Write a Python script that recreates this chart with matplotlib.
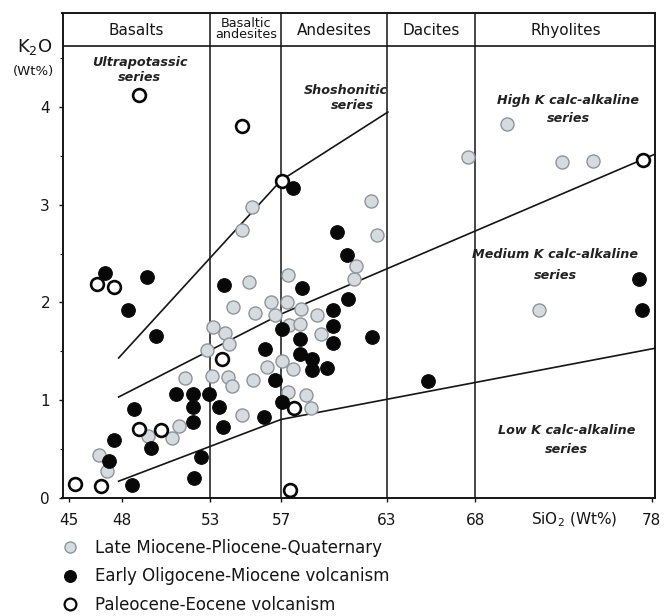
import matplotlib
matplotlib.use("Agg")
import matplotlib.pyplot as plt
from matplotlib.lines import Line2D
from matplotlib.ticker import MultipleLocator
import matplotlib.transforms as mtransforms

plt.rcParams['font.family'] = ['DejaVu Sans']

# ---------------- data ----------------
late_x = [46.70, 47.12, 49.48, 50.80, 51.23, 51.56, 52.78, 53.07, 53.12, 53.82,
          54.07, 54.00, 54.20, 54.77, 55.42, 56.18, 57.03, 57.69, 57.41, 58.40,
          58.70, 59.24, 57.46, 58.07, 59.05, 58.13, 56.65, 57.32, 56.43, 55.52,
          54.29, 55.20, 57.41, 54.80, 55.33, 61.13, 61.24, 62.42, 62.08, 67.61,
          69.79, 72.90, 74.64, 71.60]
late_y = [0.44, 0.27, 0.63, 0.61, 0.73, 1.22, 1.51, 1.24, 1.75, 1.69,
          1.57, 1.23, 1.14, 0.85, 1.20, 1.34, 1.40, 1.32, 1.08, 1.05,
          0.92, 1.68, 1.77, 1.78, 1.87, 1.935, 1.87, 2.00, 2.00, 1.89,
          1.95, 2.21, 2.28, 2.74, 2.98, 2.24, 2.37, 2.69, 3.04, 3.49,
          3.83, 3.44, 3.45, 1.92]

early_x = [47.02, 49.42, 48.34, 49.91, 53.78, 51.05, 52.03, 52.92, 52.03, 53.50,
           48.67, 52.03, 53.73, 47.53, 49.61, 47.27, 52.44, 52.08, 48.53, 56.08,
           56.65, 57.03, 56.05, 58.07, 58.07, 58.73, 58.73, 59.58, 59.95, 57.03,
           59.92, 59.96, 60.77, 60.71, 60.15, 58.17, 57.66, 62.13, 65.33, 77.30,
           77.46]
early_y = [2.30, 2.26, 1.925, 1.65, 2.18, 1.056, 1.06, 1.06, 0.926, 0.93,
           0.91, 0.77, 0.72, 0.585, 0.51, 0.37, 0.41, 0.20, 0.13, 1.525,
           1.20, 0.98, 0.82, 1.62, 1.47, 1.42, 1.31, 1.33, 1.58, 1.73,
           1.76, 1.92, 2.03, 2.48, 2.72, 2.15, 3.17, 1.64, 1.19, 2.24,
           1.925]

paleo_x = [45.32, 46.78, 46.55, 47.53, 48.95, 50.20, 53.63, 57.73, 57.50, 57.07,
           48.95, 54.77, 77.52]
paleo_y = [0.14, 0.116, 2.19, 2.16, 0.70, 0.69, 1.415, 0.92, 0.08, 3.24,
           4.12, 3.805, 3.46]

# series boundary lines (vertices)
shosho_x = [47.8, 57.0, 63.05]
shosho_y = [1.43, 3.25, 3.95]
highk_x = [47.8, 57.0, 78.2]
highk_y = [1.03, 1.88, 3.52]
lowk_x = [47.8, 57.0, 78.2]
lowk_y = [0.167, 0.80, 1.53]

# rock-name boundaries and labels
bounds = [53, 57, 63, 68]
rock_names = ["Basalts", "Basaltic\nandesites", "Andesites", "Dacites", "Rhyolites"]
rock_x = [48.8, 55.0, 60.0, 65.5, 73.1]

xticks = [45, 48, 53, 57, 63, 68, 78]
yticks = [0, 1, 2, 3, 4]

legend_labels = ["Late Miocene-Pliocene-Quaternary",
                 "Early Oligocene-Miocene volcanism",
                 "Paleocene-Eocene volcanism"]

# ---------------- figure ----------------
W, H = 669, 616
fig = plt.figure(figsize=(W / 100, H / 100), dpi=100)
ax = fig.add_axes([62.5 / W, 1 - 497.5 / H, (655 - 62.5) / W, (497.5 - 12.5) / H])

XMIN, XMAX = 44.62, 78.18
YMIN, YMAX = 0.0, 4.97
ax.set_xlim(XMIN, XMAX)
ax.set_ylim(YMIN, YMAX)

ink = "#151515"
for s in ax.spines.values():
    s.set_linewidth(1.4)
    s.set_color(ink)

# vertical classification lines and header line
for b in bounds:
    ax.plot([b, b], [YMIN, YMAX], color=ink, lw=1.1, zorder=1)
ax.plot([XMIN, XMAX], [4.625, 4.625], color=ink, lw=1.2, zorder=1)

for name, xc in zip(rock_names, rock_x):
    if "\n" in name:
        ax.text(xc, 4.80, name, ha="center", va="center", fontsize=9.2,
                linespacing=0.8, color=ink)
    else:
        ax.text(xc, 4.79, name, ha="center", va="center", fontsize=11, color=ink)

# series lines
for lx, ly in [(shosho_x, shosho_y), (highk_x, highk_y), (lowk_x, lowk_y)]:
    ax.plot(lx, ly, color=ink, lw=1.2, zorder=2)

# series names
series_txt = dict(fontsize=9.2, style="italic", fontweight="bold", color="#222222",
                  ha="center", va="center")
ax.text(49.0, 4.455, "Ultrapotassic", **series_txt)
ax.text(49.0, 4.30, "series", **series_txt)
ax.text(60.65, 4.17, "Shoshonitic", **series_txt)
ax.text(61.05, 4.02, "series", **series_txt)
ax.text(73.27, 4.065, "High K calc-alkaline", **series_txt)
ax.text(73.30, 3.88, "series", **series_txt)
ax.text(72.52, 2.49, "Medium K calc-alkaline", **series_txt)
ax.text(72.52, 2.28, "series", **series_txt)
ax.text(73.15, 0.69, "Low K calc-alkaline", **series_txt)
ax.text(73.15, 0.49, "series", **series_txt)

# points
gray_style = dict(linestyle="none", marker="o", ms=9.4, mfc="#d6dbe0",
                  mec="#8e949b", mew=1.0, zorder=3)
black_style = dict(linestyle="none", marker="o", ms=9.8, mfc="#080808",
                   mec="#080808", mew=0.8, zorder=4)
open_style = dict(linestyle="none", marker="o", ms=9.2, mfc="white",
                  mec="#080808", mew=1.9, zorder=5)
ax.plot(late_x, late_y, **gray_style)
ax.plot(early_x, early_y, **black_style)
ax.plot(paleo_x, paleo_y, **open_style)

# ticks
ax.set_xticks(xticks)
ax.set_xticklabels([str(t) for t in xticks])
ax.set_yticks(yticks)
ax.yaxis.set_minor_locator(MultipleLocator(0.5))
ax.tick_params(axis="both", which="major", direction="out", length=3,
               width=1.0, color=ink, labelsize=11, labelcolor=ink)
ax.tick_params(axis="x", pad=8)
ax.tick_params(axis="y", pad=6)
ax.tick_params(axis="y", which="minor", direction="out", length=2, width=0.8, color=ink)

trans = mtransforms.blended_transform_factory(ax.transData, ax.transAxes)
ax.text(73.6, -0.047, "SiO$_2$ (Wt%)", transform=trans, ha="center", va="center",
        fontsize=11, color=ink)

fig.text(35 / W, 1 - 47 / H, "K$_2$O", ha="center", va="center", fontsize=13, color=ink)
fig.text(34 / W, 1 - 72 / H, "(Wt%)", ha="center", va="center", fontsize=9.5, color=ink)

# legend
handles = [Line2D([], [], **{**gray_style, "ms": 8.0}),
           Line2D([], [], **{**black_style, "ms": 8.5}),
           Line2D([], [], **{**open_style, "ms": 8.5, "mew": 1.6})]
fig.legend(handles, legend_labels, loc="upper left",
           bbox_to_anchor=(60 / W, 1 - 539 / H), frameon=False,
           fontsize=12, handlelength=1.2, handletextpad=0.9,
           labelspacing=0.62, borderpad=0, borderaxespad=0,
           labelcolor=ink)

fig.savefig("out.png", dpi=100, facecolor="white")
